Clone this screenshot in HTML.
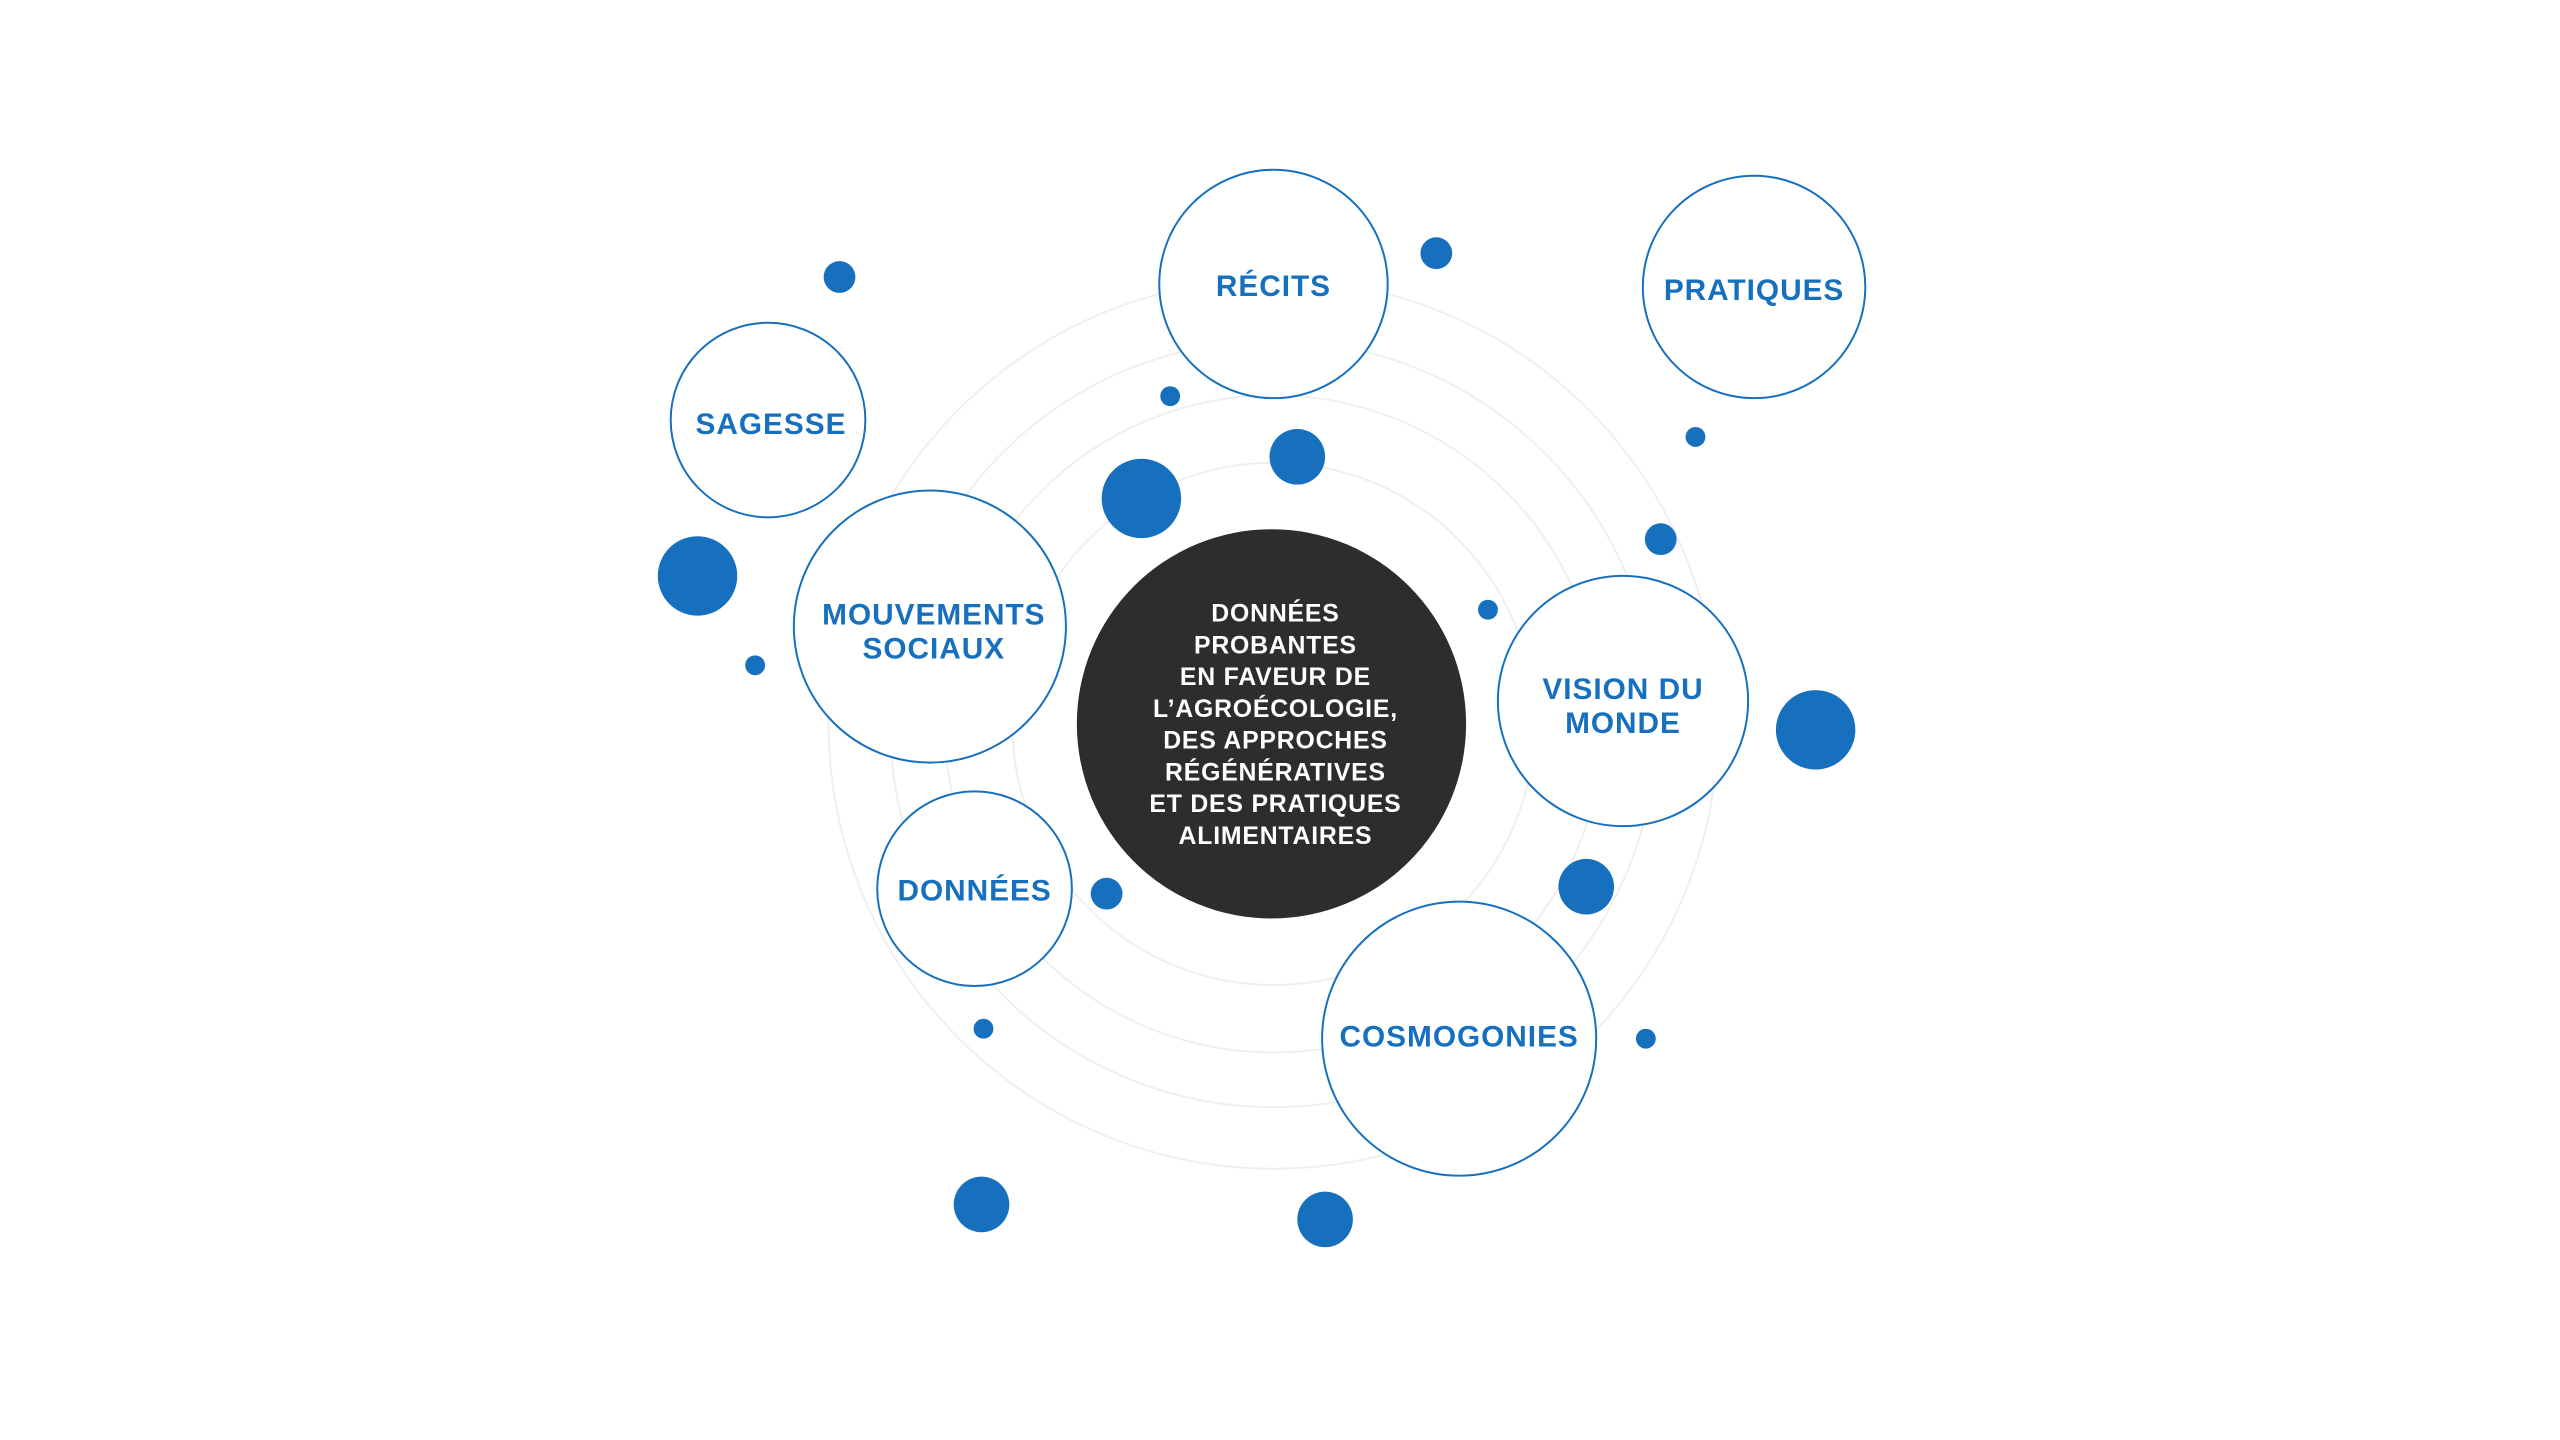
<!DOCTYPE html>
<html><head><meta charset="utf-8"><style>
html,body{margin:0;padding:0;background:#fff;}
svg{display:block;}
.lbl{font-family:"Liberation Sans",sans-serif;font-weight:bold;fill:#1670BE;font-size:30px;text-anchor:middle;letter-spacing:1px;}
.ctr{font-family:"Liberation Sans",sans-serif;font-weight:bold;fill:#fff;font-size:25px;text-anchor:middle;letter-spacing:0.8px;}
</style></head><body>
<svg width="2560" height="1440" viewBox="0 0 2560 1440">
<rect width="2560" height="1440" fill="#fff"/>
<g transform="translate(771 280) scale(0.993) translate(-771 -280)">
<g fill="none" stroke="#efefef" stroke-width="2">
<circle cx="1277" cy="727" r="263"/>
<circle cx="1277" cy="727" r="331"/>
<circle cx="1277" cy="727" r="386"/>
<circle cx="1277" cy="727" r="448"/>
</g>
<circle cx="1275" cy="727" r="196" fill="#2d2d2d"/>
<g fill="#fff" stroke="#1670BE" stroke-width="2">
<circle cx="1277" cy="284" r="115"/>
<circle cx="1761" cy="287" r="112"/>
<circle cx="768" cy="421" r="98"/>
<circle cx="931" cy="629" r="137"/>
<circle cx="1629" cy="704" r="126"/>
<circle cx="976" cy="893" r="98"/>
<circle cx="1464" cy="1044" r="138"/>
</g>
<g fill="#1670BE">
<circle cx="840" cy="277" r="16"/>
<circle cx="1441" cy="253" r="16"/>
<circle cx="1173" cy="397" r="10"/>
<circle cx="1301" cy="458" r="28"/>
<circle cx="1144" cy="500" r="40"/>
<circle cx="1702" cy="438" r="10"/>
<circle cx="1667" cy="541" r="16"/>
<circle cx="697" cy="578" r="40"/>
<circle cx="755" cy="668" r="10"/>
<circle cx="1493" cy="612" r="10"/>
<circle cx="1823" cy="733" r="40"/>
<circle cx="1109" cy="898" r="16"/>
<circle cx="1592" cy="891" r="28"/>
<circle cx="985" cy="1034" r="10"/>
<circle cx="1652" cy="1044" r="10"/>
<circle cx="983" cy="1211" r="28"/>
<circle cx="1329" cy="1226" r="28"/>
</g>
<text class="lbl" x="1277" y="296">RÉCITS</text>
<text class="lbl" x="1761" y="300">PRATIQUES</text>
<text class="lbl" x="771" y="435">SAGESSE</text>
<text class="lbl" x="935" y="627">MOUVEMENTS</text>
<text class="lbl" x="935" y="661">SOCIAUX</text>
<text class="lbl" x="1629" y="702">VISION DU</text>
<text class="lbl" x="1629" y="736">MONDE</text>
<text class="lbl" x="976" y="905">DONNÉES</text>
<text class="lbl" x="1464" y="1052">COSMOGONIES</text>
<text class="ctr" x="1279" y="624">DONNÉES</text>
<text class="ctr" x="1279" y="656">PROBANTES</text>
<text class="ctr" x="1279" y="688">EN FAVEUR DE</text>
<text class="ctr" x="1279" y="720">L’AGROÉCOLOGIE,</text>
<text class="ctr" x="1279" y="752">DES APPROCHES</text>
<text class="ctr" x="1279" y="784">RÉGÉNÉRATIVES</text>
<text class="ctr" x="1279" y="816">ET DES PRATIQUES</text>
<text class="ctr" x="1279" y="848">ALIMENTAIRES</text>
</g>
</svg>
</body></html>
